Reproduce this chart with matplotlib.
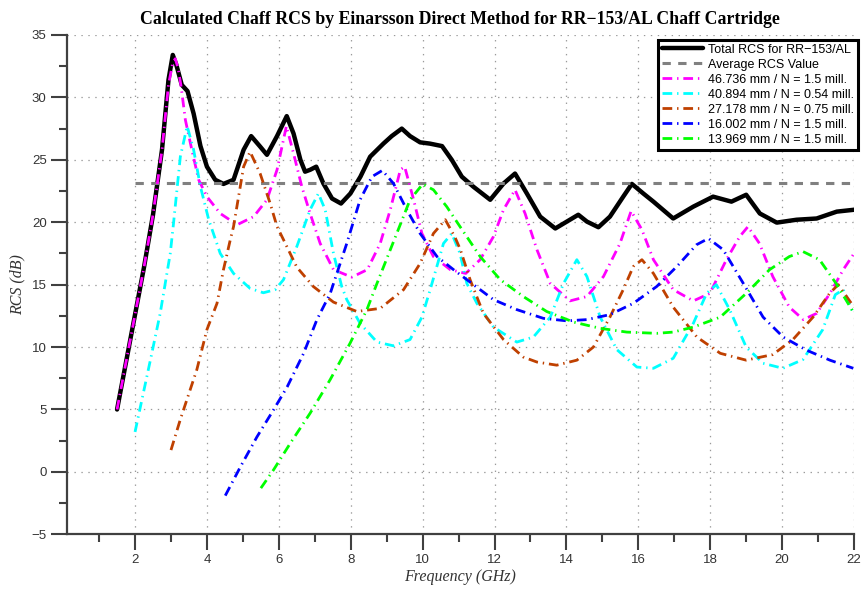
import matplotlib
matplotlib.use("Agg")
import matplotlib.pyplot as plt
import numpy as np

# ---------------- data ----------------
total_x = [1.5, 1.75, 2.0, 2.25, 2.5, 2.75, 2.93, 3.05, 3.15, 3.3, 3.46, 3.63, 3.82, 4.0,
           4.23, 4.46, 4.74, 5.02, 5.23, 5.48, 5.67, 5.95, 6.22, 6.41, 6.6, 6.73, 6.87,
           7.04, 7.24, 7.48, 7.73, 7.99, 8.27, 8.54, 8.91, 9.14, 9.42, 9.65, 9.93, 10.2,
           10.54, 10.81, 11.09, 11.41, 11.88, 12.25, 12.57, 12.9, 13.27, 13.69, 14.01,
           14.33, 14.57, 14.89, 15.21, 15.58, 15.82, 16.14, 16.42, 16.97, 17.53, 18.08,
           18.59, 19.0, 19.38, 19.85, 20.4, 20.96, 21.52, 22.0]
total_y = [5.0, 8.8, 12.6, 16.4, 20.6, 25.8, 31.4, 33.4, 32.6, 31.0, 30.5, 28.7, 26.1, 24.45,
           23.4, 23.07, 23.4, 25.8, 26.9, 26.06, 25.4, 26.9, 28.5, 27.1, 25.0, 24.05, 24.2,
           24.45, 23.1, 21.9, 21.5, 22.3, 23.65, 25.25, 26.3, 26.9, 27.5, 26.9, 26.4, 26.3,
           26.1, 25.0, 23.65, 22.85, 21.8, 23.1, 23.9, 22.3, 20.45, 19.5, 20.05,
           20.6, 20.05, 19.6, 20.45, 22.05, 23.07, 22.3, 21.65, 20.3, 21.25, 22.05,
           21.65, 22.2, 20.7, 19.97, 20.2, 20.3, 20.85, 21.0]

avg_x = [2.0, 22.0]
avg_y = [23.15, 23.15]

mag_x = [1.5, 1.75, 2.0, 2.25, 2.5, 2.75, 2.93, 3.05, 3.12, 3.2, 3.28, 3.4, 3.58, 3.77, 4.0,
         4.37, 4.84, 5.3, 5.67, 5.95, 6.21, 6.41, 6.64, 6.87, 7.15, 7.52, 8.03, 8.46, 8.82,
         9.1, 9.38, 9.5, 9.75, 9.98, 10.3, 10.77, 11.2, 11.6, 11.97, 12.25, 12.57, 12.85,
         13.18, 13.55, 14.1, 14.57, 15.03, 15.49, 15.8, 16.1, 16.42, 16.97, 17.53, 17.99,
         18.45, 18.82, 19.05, 19.37, 19.74, 20.2, 20.59, 20.96, 21.33, 21.7, 22.0]
mag_y = [5.0, 8.8, 12.6, 16.4, 20.6, 25.8, 31.0, 32.8, 33.1, 32.3, 30.9, 28.2, 25.8, 23.4, 22.05,
         20.7, 19.8, 20.45, 21.8, 24.2, 27.7, 25.5, 22.85, 20.7, 18.3, 16.2, 15.6, 16.2, 18.3,
         21.0, 24.2, 24.45, 21.8, 19.1, 17.25, 16.2, 15.9, 17.0, 18.85, 21.0, 22.6, 20.7,
         17.8, 15.1, 13.7, 14.05, 15.65, 18.3, 20.9, 19.4, 17.0, 14.6, 13.7, 14.3,
         17.0, 18.85, 19.65, 18.3, 15.65, 13.2, 12.2, 12.7, 14.3, 16.2, 17.5]

cyan_x = [2.0, 2.43, 2.7, 2.98, 3.07, 3.26, 3.45, 3.63, 3.82, 4.05, 4.37, 4.74, 5.2, 5.57, 5.9,
          6.13, 6.5, 6.87, 7.1, 7.29, 7.52, 7.75, 7.89, 8.26, 8.73, 9.19, 9.65, 9.98, 10.21,
          10.58, 10.81, 11.04, 11.23, 11.51, 11.97, 12.62, 13.08, 13.55, 13.92, 14.29, 14.57,
          14.94, 15.4, 15.96, 16.42, 16.97, 17.53, 17.9, 18.17, 18.54, 19.0, 19.47, 20.02,
          20.58, 21.13, 21.48, 21.7, 22.0]
cyan_y = [3.2, 9.0, 12.7, 17.5, 19.9, 25.25, 27.7, 25.8, 22.85, 20.2, 17.5, 15.9, 14.7, 14.35, 14.6,
          15.4, 18.05, 21.0, 22.3, 21.0, 17.5, 14.85, 13.8, 11.9, 10.4, 10.1, 10.6, 12.4, 14.6,
          18.3, 19.1, 17.5, 15.1, 13.5, 11.6, 10.4, 10.8, 12.4, 15.1, 17.0, 15.65,
          12.4, 9.8, 8.4, 8.3, 9.1, 11.9, 14.3, 15.0, 13.0, 10.0, 8.7, 8.3,
          9.0, 11.4, 14.2, 14.6, 12.6]

brown_x = [3.0, 3.26, 3.72, 4.0, 4.28, 4.46, 4.65, 4.74, 5.02, 5.2, 5.48, 5.76, 5.95, 6.13, 6.5,
           6.96, 7.52, 8.17, 8.82, 9.47, 9.93, 10.3, 10.63, 10.9, 11.05, 11.32, 11.69, 12.25,
           12.8, 13.18, 13.73, 14.29, 14.75, 15.21, 15.58, 15.86, 16.1, 16.42, 16.97, 17.63,
           18.28, 19.0, 19.74, 20.3, 20.86, 21.32, 21.56, 22.0]
brown_y = [1.75, 4.2, 8.2, 11.4, 13.5, 16.2, 18.6, 19.65, 24.45, 25.65, 23.9, 21.5, 19.65, 18.6, 16.4,
           14.85, 13.6, 12.85, 13.1, 14.6, 16.7, 19.1, 20.2, 18.8, 17.8, 15.4, 12.7, 10.6,
           9.2, 8.8, 8.55, 8.95, 10.0, 12.4, 14.6, 16.45, 17.0, 15.9, 13.2, 10.8,
           9.5, 8.95, 9.4, 10.6, 12.4, 14.3, 15.0, 13.2]

blue_x = [4.51, 4.93, 5.39, 5.85, 6.23, 6.69, 7.06, 7.43, 7.89, 8.26, 8.59, 8.88, 9.19, 9.56,
          9.93, 10.4, 10.86, 11.23, 11.97, 12.62, 13.36, 14.01, 14.57, 15.21, 15.86, 16.51,
          17.07, 17.62, 17.95, 18.36, 18.92, 19.47, 20.03, 20.68, 21.33, 21.98]
blue_y = [-1.9, 0.4, 2.8, 4.96, 6.8, 9.5, 12.2, 14.3, 18.3, 21.8, 23.65, 24.15, 23.1, 21.0,
          19.1, 17.25, 16.2, 15.4, 13.8, 13.0, 12.3, 12.1, 12.2, 12.6, 13.5, 14.85,
          16.45, 18.2, 18.7, 17.8, 15.1, 12.4, 10.8, 9.75, 8.95, 8.3]

green_x = [5.5, 5.85, 6.32, 6.87, 7.43, 7.98, 8.45, 8.73, 9.28, 9.65, 10.0, 10.3, 10.67, 11.04,
           11.6, 12.16, 12.8, 13.45, 14.2, 14.94, 15.68, 16.51, 16.97, 17.53, 18.28, 19.0,
           19.65, 20.2, 20.58, 21.04, 21.5, 21.98]
green_y = [-1.3, 0.15, 2.3, 4.7, 7.4, 10.3, 13.0, 15.1, 19.1, 21.8, 23.05, 22.6, 21.25, 19.65,
           17.25, 15.4, 14.05, 12.85, 12.0, 11.5, 11.2, 11.1, 11.2, 11.6, 12.4, 14.3,
           16.2, 17.25, 17.65, 17.0, 15.1, 12.8]

labels = ["Total RCS for RR\u2212153/AL", "Average RCS Value",
          "46.736 mm / N = 1.5 mill.", "40.894 mm / N = 0.54 mill.",
          "27.178 mm / N = 0.75 mill.", "16.002 mm / N = 1.5 mill.",
          "13.969 mm / N = 1.5 mill."]
x_ticks = [2, 4, 6, 8, 10, 12, 14, 16, 18, 20, 22]
y_ticks = [-5, 0, 5, 10, 15, 20, 25, 30, 35]

# ---------------- style ----------------
plt.rcParams['lines.scale_dashes'] = False
plt.rcParams['font.family'] = ['Liberation Sans', 'DejaVu Sans']
plt.rcParams['axes.unicode_minus'] = True

fig = plt.figure(figsize=(8.61, 5.91), dpi=100)
ax = fig.add_axes([0.0775, 0.0959, 0.9144, 0.8449])

dashdot = (0, (7, 3.5, 1.0, 3.5))
lw_c = 2.0

ax.plot(total_x, total_y, color='black', lw=3.2, label=labels[0],
        solid_joinstyle='round', solid_capstyle='round')
ax.plot(avg_x, avg_y, color='#808080', lw=2.2, linestyle=(0, (6, 5.3)), label=labels[1])
ax.plot(mag_x, mag_y, color='#ff00ff', lw=lw_c, linestyle=dashdot, label=labels[2])
ax.plot(cyan_x, cyan_y, color='#00ffff', lw=lw_c, linestyle=dashdot, label=labels[3])
ax.plot(brown_x, brown_y, color='#bf4000', lw=lw_c, linestyle=dashdot, label=labels[4])
ax.plot(blue_x, blue_y, color='#0000ff', lw=lw_c, linestyle=dashdot, label=labels[5])
ax.plot(green_x, green_y, color='#00ff00', lw=lw_c, linestyle=dashdot, label=labels[6])

ax.set_xlim(0.1, 22)
ax.set_ylim(-5, 35)
ax.set_xticks(x_ticks)
ax.set_xticks(np.arange(1, 22, 2), minor=True)
ax.set_yticks(y_ticks)
ax.set_yticks(np.arange(-2.5, 35, 5), minor=True)

ax.grid(True, which='major', linestyle=(0, (1, 4)), color='#9a9a9a', linewidth=0.9)
ax.set_axisbelow(True)

for s in ['top', 'right']:
    ax.spines[s].set_visible(False)
for s in ['left', 'bottom']:
    ax.spines[s].set_color('#404040')
    ax.spines[s].set_linewidth(1.6)

ax.tick_params(which='major', direction='out', length=11.5, width=1.5, color='#404040',
               labelsize=9.5, labelcolor='#333333', pad=3)
ax.tick_params(which='minor', direction='out', length=5.8, width=1.5, color='#404040')

ax.set_title("Calculated Chaff RCS by Einarsson Direct Method for RR\u2212153/AL Chaff Cartridge",
             fontfamily='Liberation Serif', fontweight='bold', fontsize=12.8, pad=8)
ax.set_xlabel("Frequency (GHz)", fontfamily='Liberation Serif', style='italic', fontsize=11.5,
              color='#333333', labelpad=2)
ax.set_ylabel("RCS (dB)", fontfamily='Liberation Serif', style='italic', fontsize=11.5,
              color='#333333', labelpad=4)

leg = ax.legend(loc='upper right', bbox_to_anchor=(0.9965, 0.9323), bbox_transform=fig.transFigure,
                borderaxespad=0, fontsize=9, handlelength=3.3, labelspacing=0.24,
                handletextpad=0.4, borderpad=0.3, fancybox=False, framealpha=1)
leg.get_frame().set_edgecolor('black')
leg.get_frame().set_linewidth(2.2)

fig.savefig("out.png", dpi=100)
